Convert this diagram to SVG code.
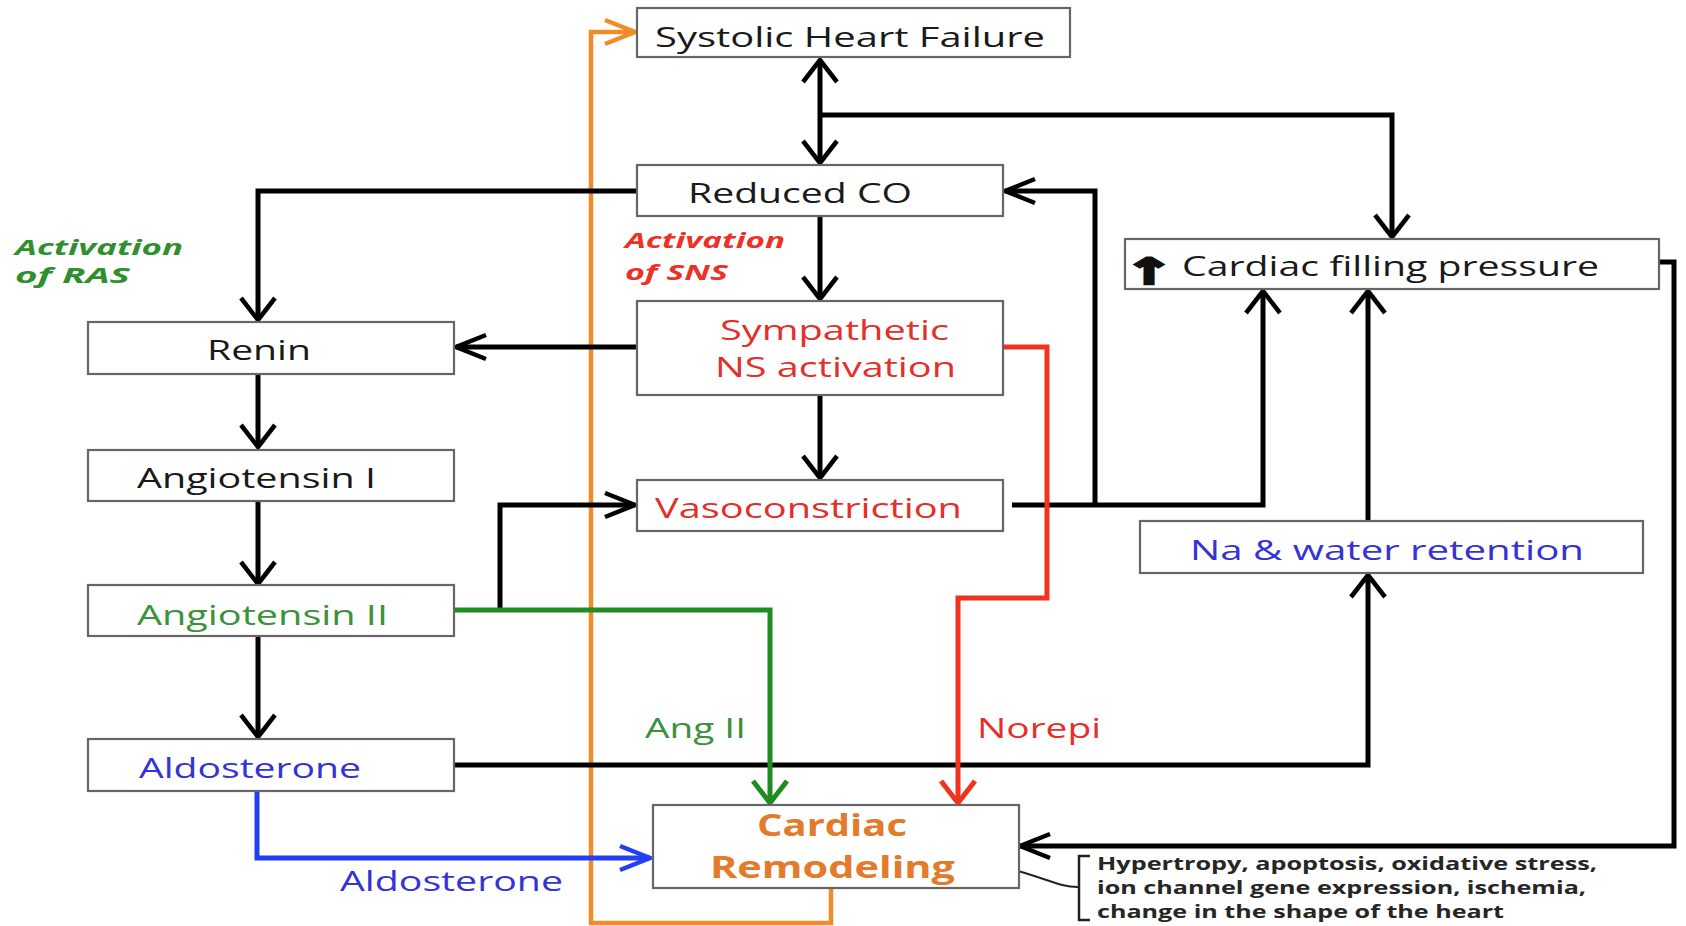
<svg xmlns="http://www.w3.org/2000/svg" width="1686" height="926" viewBox="0 0 1686 926">
<style>
.box{fill:#fff;stroke:#666;stroke-width:2.2}
.t{font-family:"Open Sans","Liberation Sans",sans-serif;font-size:27px;fill:#1a1a1a}
.red{fill:#e3302a}
.green{fill:#3a923a}
.blue{fill:#3333d6}
.lbl{font-family:"Open Sans","Liberation Sans",sans-serif;font-size:22px;font-weight:bold;font-style:italic}
.big{font-family:"Open Sans","Liberation Sans",sans-serif;font-size:30px;font-weight:bold;fill:#e37a2c}
.note{font-family:"Open Sans","Liberation Sans",sans-serif;font-size:17px;font-weight:bold;fill:#262626}
.c{fill:none;stroke-width:5;stroke-linejoin:miter}
.k{stroke:#000}
.g{stroke:#1f8c1f}
.r{stroke:#f0321e}
.b{stroke:#2140f5}
.o{stroke:#f28c28;stroke-width:4.5}
</style>
<defs>
<marker id="kv" markerUnits="userSpaceOnUse" orient="auto-start-reverse" overflow="visible" markerWidth="1" markerHeight="1"><path d="M-22,-17 L0,0 L-22,17" fill="none" stroke="#000" stroke-width="4.5"/></marker>
<marker id="kh" markerUnits="userSpaceOnUse" orient="auto" overflow="visible" markerWidth="1" markerHeight="1"><path d="M-30,-12 L0,0 L-30,12" fill="none" stroke="#000" stroke-width="4.5"/></marker>
<marker id="gv" markerUnits="userSpaceOnUse" orient="auto" overflow="visible" markerWidth="1" markerHeight="1"><path d="M-22,-17 L0,0 L-22,17" fill="none" stroke="#1f8c1f" stroke-width="5"/></marker>
<marker id="rv" markerUnits="userSpaceOnUse" orient="auto" overflow="visible" markerWidth="1" markerHeight="1"><path d="M-22,-17 L0,0 L-22,17" fill="none" stroke="#f0321e" stroke-width="5"/></marker>
<marker id="bh" markerUnits="userSpaceOnUse" orient="auto" overflow="visible" markerWidth="1" markerHeight="1"><path d="M-30,-12 L0,0 L-30,12" fill="none" stroke="#2140f5" stroke-width="4.5"/></marker>
<marker id="oh" markerUnits="userSpaceOnUse" orient="auto" overflow="visible" markerWidth="1" markerHeight="1"><path d="M-30,-12 L0,0 L-30,12" fill="none" stroke="#f28c28" stroke-width="4.5"/></marker>
</defs>

<g id="connectors">
<path class="c o" d="M831,888 V923 H591 V32 H635" marker-end="url(#oh)"/>
<path class="c k" d="M820,60 V163" marker-start="url(#kv)" marker-end="url(#kv)"/>
<path class="c k" d="M820,115 H1392 V237" marker-end="url(#kv)"/>
<path class="c k" d="M637,191 H258 V320" marker-end="url(#kv)"/>
<path class="c k" d="M820,216 V299" marker-end="url(#kv)"/>
<path class="c k" d="M637,347 H456" marker-end="url(#kh)"/>
<path class="c k" d="M258,374 V447" marker-end="url(#kv)"/>
<path class="c k" d="M820,395 V478" marker-end="url(#kv)"/>
<path class="c k" d="M258,496 V584" marker-end="url(#kv)"/>
<path class="c k" d="M258,637 V737" marker-end="url(#kv)"/>
<path class="c k" d="M500,610 V505 H635" marker-end="url(#kh)"/>
<path class="c k" d="M454,765 H1368 V575" marker-end="url(#kv)"/>
<path class="c k" d="M1368,521 V291" marker-end="url(#kv)"/>
<path class="c k" d="M1012,505 H1263 V291" marker-end="url(#kv)"/>
<path class="c k" d="M1095,503 V191 H1005" marker-end="url(#kh)"/>
<path class="c k" d="M1659,262 H1674 V846 H1020" marker-end="url(#kh)"/>
<path class="c g" d="M454,610 H770 V803" marker-end="url(#gv)"/>
<path class="c r" d="M1003,347 H1047 V598 H958 V803" marker-end="url(#rv)"/>
<path class="c b" d="M257,791 V858 H650" marker-end="url(#bh)"/>
<path d="M1018,871 C1050,880 1060,887 1078,887" fill="none" stroke="#222" stroke-width="2"/>
<path d="M1090,856 H1079 V920 H1090" fill="none" stroke="#222" stroke-width="2.5"/>
</g>

<g id="systolic">
<rect class="box" x="637" y="8" width="433" height="49"/>
<text class="t" x="655" y="47" textLength="390" lengthAdjust="spacingAndGlyphs">Systolic Heart Failure</text>
</g>
<g id="reduced-co">
<rect class="box" x="637" y="165" width="366" height="51"/>
<text class="t" x="688" y="203" textLength="224" lengthAdjust="spacingAndGlyphs">Reduced CO</text>
</g>
<g id="sympathetic">
<rect class="box" x="637" y="301" width="366" height="94"/>
<text class="t red" x="720" y="340" textLength="229" lengthAdjust="spacingAndGlyphs">Sympathetic</text>
<text class="t red" x="715" y="377" textLength="241" lengthAdjust="spacingAndGlyphs">NS activation</text>
</g>
<g id="vasoconstriction">
<rect class="box" x="637" y="480" width="366" height="51"/>
<text class="t red" x="655" y="518" textLength="307" lengthAdjust="spacingAndGlyphs">Vasoconstriction</text>
</g>
<g id="renin">
<rect class="box" x="88" y="322" width="366" height="52"/>
<text class="t" x="207" y="360" textLength="104" lengthAdjust="spacingAndGlyphs">Renin</text>
</g>
<g id="angiotensin-i">
<rect class="box" x="88" y="450" width="366" height="51"/>
<text class="t" x="137" y="488" textLength="239" lengthAdjust="spacingAndGlyphs">Angiotensin I</text>
</g>
<g id="angiotensin-ii">
<rect class="box" x="88" y="585" width="366" height="51"/>
<text class="t green" x="137" y="625" textLength="251" lengthAdjust="spacingAndGlyphs">Angiotensin II</text>
</g>
<g id="aldosterone">
<rect class="box" x="88" y="739" width="366" height="52"/>
<text class="t blue" x="139" y="778" textLength="222" lengthAdjust="spacingAndGlyphs">Aldosterone</text>
</g>
<g id="cardiac-remodeling">
<rect class="box" x="653" y="805" width="366" height="83"/>
<text class="big" x="757" y="836" textLength="150" lengthAdjust="spacingAndGlyphs">Cardiac</text>
<text class="big" x="710" y="878" textLength="245" lengthAdjust="spacingAndGlyphs">Remodeling</text>
</g>
<g id="filling-pressure">
<rect class="box" x="1125" y="239" width="534" height="50"/>
<text x="1124" y="284" font-family="DejaVu Sans, sans-serif" font-size="36" font-weight="bold" fill="#111" stroke="#111" stroke-width="2.5" textLength="50" lengthAdjust="spacingAndGlyphs">↑</text>
<text class="t" x="1182" y="276" textLength="417" lengthAdjust="spacingAndGlyphs">Cardiac filling pressure</text>
</g>
<g id="na-water">
<rect class="box" x="1140" y="521" width="503" height="52"/>
<text class="t blue" x="1190" y="560" textLength="394" lengthAdjust="spacingAndGlyphs">Na &amp; water retention</text>
</g>

<g id="labels">
<text class="lbl" fill="#2f8f2f" x="15" y="255" textLength="168" lengthAdjust="spacingAndGlyphs">Activation</text>
<text class="lbl" fill="#2f8f2f" x="15" y="283" textLength="115" lengthAdjust="spacingAndGlyphs">of RAS</text>
<text class="lbl" fill="#ea3328" x="625" y="248" textLength="160" lengthAdjust="spacingAndGlyphs">Activation</text>
<text class="lbl" fill="#ea3328" x="625" y="280" textLength="103" lengthAdjust="spacingAndGlyphs">of SNS</text>
<text class="t green" x="645" y="738" textLength="101" lengthAdjust="spacingAndGlyphs">Ang II</text>
<text class="t red" x="977" y="738" textLength="124" lengthAdjust="spacingAndGlyphs">Norepi</text>
<text class="t blue" x="340" y="891" textLength="223" lengthAdjust="spacingAndGlyphs">Aldosterone</text>
<text class="note" x="1097" y="870" textLength="500" lengthAdjust="spacingAndGlyphs">Hypertropy, apoptosis, oxidative stress,</text>
<text class="note" x="1097" y="894" textLength="489" lengthAdjust="spacingAndGlyphs">ion channel gene expression, ischemia,</text>
<text class="note" x="1097" y="918" textLength="407" lengthAdjust="spacingAndGlyphs">change in the shape of the heart</text>
</g>
</svg>
